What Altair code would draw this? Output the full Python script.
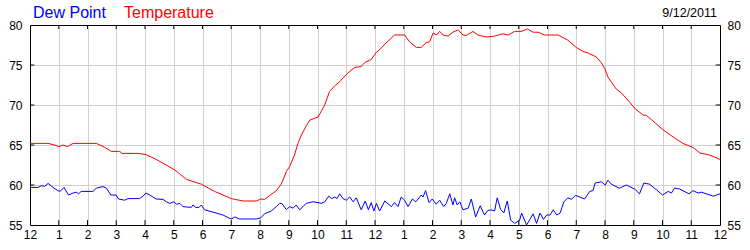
import altair as alt
import pandas as pd

dew_hours = [0.0, 0.28, 0.39, 0.51, 0.63, 0.8, 0.97, 1.05, 1.18, 1.34, 1.5, 1.61, 1.69, 1.78, 2.19, 2.31, 2.54, 2.66,
             2.81, 2.99, 3.08, 3.29, 3.41, 3.81, 3.93, 4.03, 4.16, 4.39, 4.63, 4.74, 4.86, 5.0, 5.1, 5.21, 5.32, 5.61,
             5.67, 5.77, 5.88, 5.96, 6.07, 6.37, 6.71, 7.0, 7.12, 7.29, 7.87, 8.03, 8.16, 8.39, 8.57, 8.68, 8.76, 8.92,
             9.03, 9.15, 9.26, 9.38, 9.61, 9.84, 10.02, 10.13, 10.25, 10.39, 10.49, 10.6, 10.68, 10.77, 10.89, 11.0,
             11.12, 11.24, 11.35, 11.52, 11.66, 11.77, 11.87, 11.96, 12.05, 12.16, 12.34, 12.57, 12.68, 12.8, 12.91,
             13.03, 13.15, 13.3, 13.42, 13.5, 13.61, 13.67, 13.76, 13.88, 13.99, 14.13, 14.25, 14.39, 14.48, 14.6,
             14.71, 14.77, 14.86, 14.95, 15.06, 15.24, 15.35, 15.5, 15.66, 15.81, 15.92, 16.03, 16.16, 16.25, 16.37,
             16.48, 16.6, 16.72, 16.86, 17.03, 17.1, 17.27, 17.39, 17.5, 17.62, 17.74, 17.86, 17.97, 18.09, 18.2,
             18.32, 18.44, 18.57, 18.71, 18.83, 18.97, 19.12, 19.29, 19.47, 19.58, 19.66, 19.87, 20.01, 20.1, 20.22,
             20.5, 20.62, 20.74, 21.03, 21.2, 21.35, 21.55, 21.79, 22.0, 22.2, 22.31, 22.42, 22.6, 22.92, 23.06,
             23.24, 23.36, 23.77, 24.0]
dew_values = [59.7, 59.7, 59.9, 59.85, 60.2, 59.7, 59.3, 59.2, 59.7, 58.75, 59.0, 59.1, 58.9, 59.2, 59.2, 59.6, 59.8,
              59.6, 58.75, 58.75, 58.25, 58.1, 58.3, 58.3, 58.6, 59.0, 58.75, 58.25, 58.2, 57.9, 57.7, 57.9, 57.6,
              57.7, 57.3, 57.2, 57.5, 57.2, 57.2, 57.5, 56.9, 56.6, 56.25, 55.75, 56.0, 55.75, 55.75, 55.9, 56.4,
              56.75, 57.3, 57.7, 57.7, 56.9, 57.3, 57.1, 57.5, 56.9, 57.7, 57.9, 57.8, 57.7, 57.9, 58.6, 58.3, 58.5,
              58.3, 58.9, 58.3, 58.1, 58.5, 57.9, 58.4, 56.9, 58.0, 56.9, 57.8, 56.75, 57.7, 56.75, 58.0, 57.3, 57.8,
              57.3, 58.5, 58.1, 57.3, 58.25, 57.9, 58.25, 58.75, 58.5, 59.3, 57.8, 58.25, 57.6, 58.1, 57.3, 57.7,
              58.9, 57.5, 58.4, 57.5, 57.9, 56.9, 57.1, 58.25, 56.0, 57.4, 56.25, 56.8, 56.9, 56.75, 58.4, 56.95,
              56.5, 58.0, 55.6, 55.2, 55.6, 56.5, 55.0, 55.7, 56.4, 55.2, 56.5, 55.7, 56.25, 56.25, 56.9, 56.25,
              56.5, 57.9, 58.4, 58.2, 58.7, 58.5, 58.25, 59.2, 59.3, 60.25, 60.4, 60.0, 60.6, 60.1, 59.6, 59.8, 60.0,
              59.5, 58.9, 60.25, 60.1, 59.4, 58.75, 59.2, 59.0, 59.6, 59.5, 58.9, 59.3, 59.0, 59.1, 58.6, 58.9]

temp_hours = [0.0, 0.63, 0.85, 1.0, 1.15, 1.3, 1.5, 2.31, 2.6, 2.83, 3.12, 3.2, 3.76, 4.03, 4.39, 5.03, 5.44, 5.96,
              6.42, 7.0, 7.41, 7.87, 8.03, 8.16, 8.34, 8.57, 8.74, 8.92, 9.03, 9.2, 9.32, 9.44, 9.61, 9.73, 10.02,
              10.13, 10.25, 10.42, 10.6, 10.77, 10.89, 11.06, 11.29, 11.52, 11.64, 11.87, 12.05, 12.16, 12.34, 12.68,
              13.03, 13.2, 13.44, 13.61, 13.78, 13.9, 14.02, 14.13, 14.25, 14.37, 14.54, 14.71, 14.89, 15.06, 15.18,
              15.41, 15.58, 15.87, 16.16, 16.45, 16.63, 16.86, 17.09, 17.3, 17.5, 17.67, 17.9, 18.37, 18.71, 19.0,
              19.23, 19.41, 19.7, 19.87, 20.0, 20.1, 20.39, 20.57, 20.8, 21.03, 21.32, 21.44, 21.67, 22.02, 22.37,
              22.71, 23.06, 23.3, 23.64, 24.0]
temp_values = [65.2, 65.2, 65.0, 64.8, 65.0, 64.8, 65.2, 65.2, 64.7, 64.2, 64.2, 63.95, 63.95, 63.8, 63.2, 61.9,
               60.7, 60.1, 59.2, 58.3, 58.0, 58.0, 58.25, 58.2, 58.7, 59.3, 60.1, 61.7, 62.3, 63.75, 65.2, 66.25,
               67.4, 68.1, 68.5, 69.2, 70.0, 71.7, 72.4, 72.9, 73.4, 74.0, 74.7, 74.8, 75.3, 75.7, 76.6, 76.9, 77.6,
               78.75, 78.75, 77.9, 77.2, 77.2, 77.8, 77.9, 79.0, 78.75, 79.2, 78.75, 78.6, 79.1, 79.4, 78.75, 78.7,
               79.2, 78.75, 78.5, 78.6, 78.9, 78.75, 79.2, 79.2, 79.5, 79.1, 79.1, 78.75, 78.75, 78.1, 77.2, 76.7,
               76.5, 76.0, 75.3, 74.5, 73.5, 72.0, 71.5, 70.6, 69.6, 68.75, 68.7, 68.0, 66.9, 66.0, 65.2, 64.7, 64.0,
               63.75, 63.2]

series_names = ["Dew Point", "Temperature"]
series_colors = ["#0000ff", "#ff0000"]
date_label = ["9/12/2011"]
hour_ticks = list(range(25))
y_ticks = [55, 60, 65, 70, 75, 80]

FONT = "Liberation Sans"

df = pd.concat([
    pd.DataFrame({"hour": dew_hours, "value": dew_values, "series": series_names[0]}),
    pd.DataFrame({"hour": temp_hours, "value": temp_values, "series": series_names[1]}),
])

x_scale = alt.Scale(domain=[0, 24], nice=False, zero=False)
y_scale = alt.Scale(domain=[55, 80], nice=False, zero=False)

x_axis = alt.Axis(values=hour_ticks, title=None, grid=True, gridColor="#d0d0d0", gridWidth=1,
                  ticks=False, tickSize=0, domain=True, domainColor="#000000", domainWidth=1,
                  labelFont=FONT, labelFontSize=12, labelFlush=False, labelOverlap=False,
                  labelColor="#000000", labelPadding=4, orient="bottom",
                  labelExpr="datum.value % 12 == 0 ? '12' : '' + (datum.value % 12)")
x_axis_top = alt.Axis(values=hour_ticks, title=None, grid=False, labels=False,
                      ticks=False, tickSize=0, domain=True, domainColor="#000000", domainWidth=1,
                      orient="top")
y_axis_left = alt.Axis(values=y_ticks, title=None, grid=True, gridColor="#d0d0d0", gridWidth=1,
                       ticks=False, tickSize=0, domain=True, domainColor="#000000", domainWidth=1,
                       labelFont=FONT, labelFontSize=12, labelFlush=False, labelOverlap=False,
                       labelColor="#000000", labelPadding=8, orient="left")
y_axis_right = alt.Axis(values=y_ticks, title=None, grid=False,
                        ticks=False, tickSize=0, domain=True, domainColor="#000000", domainWidth=1,
                        labelFont=FONT, labelFontSize=12, labelFlush=False, labelOverlap=False,
                        labelColor="#000000", labelPadding=7, orient="right")

lines = alt.Chart(df).mark_line(strokeWidth=1).encode(
    x=alt.X("hour:Q", scale=x_scale, axis=x_axis),
    y=alt.Y("value:Q", scale=y_scale, axis=y_axis_left),
    color=alt.Color("series:N", scale=alt.Scale(domain=series_names, range=series_colors), legend=None),
)

hour_df = pd.DataFrame({"hour": hour_ticks[1:-1]})
ytick_df = pd.DataFrame({"value": y_ticks[1:-1]})

top_ticks = alt.Chart(hour_df).mark_rule(color="black", strokeWidth=1).encode(
    x=alt.X("hour:Q", scale=x_scale, axis=x_axis),
    y=alt.datum(80, scale=y_scale, axis=y_axis_left), y2=alt.datum(79.5))
bottom_ticks = alt.Chart(hour_df).mark_rule(color="black", strokeWidth=1).encode(
    x=alt.X("hour:Q", scale=x_scale, axis=x_axis),
    y=alt.datum(55, scale=y_scale, axis=y_axis_left), y2=alt.datum(55.6))
left_ticks = alt.Chart(ytick_df).mark_rule(color="black", strokeWidth=1).encode(
    y=alt.Y("value:Q", scale=y_scale, axis=y_axis_left),
    x=alt.datum(0, scale=x_scale, axis=x_axis), x2=alt.datum(0.15))

right_ticks = alt.Chart(ytick_df).mark_rule(color="black", strokeWidth=1).encode(
    y=alt.Y("value:Q", scale=y_scale, axis=y_axis_right),
    x=alt.datum(24, scale=x_scale, axis=x_axis_top), x2=alt.datum(23.85))

legend_dew = alt.Chart(pd.DataFrame({"t": [series_names[0]]})).mark_text(
    align="left", baseline="alphabetic", font=FONT, fontSize=16, color=series_colors[0]
).encode(text="t:N", x=alt.value(3), y=alt.value(-7))
legend_temp = alt.Chart(pd.DataFrame({"t": [series_names[1]]})).mark_text(
    align="left", baseline="alphabetic", font=FONT, fontSize=16, color=series_colors[1]
).encode(text="t:N", x=alt.value(94), y=alt.value(-7))
date_text = alt.Chart(pd.DataFrame({"t": date_label})).mark_text(
    align="right", baseline="alphabetic", font=FONT, fontSize=12.5, color="#000000"
).encode(text="t:N", x=alt.value(687), y=alt.value(-8))

left_layer = alt.layer(lines, top_ticks, bottom_ticks, left_ticks)
chart = alt.layer(
    left_layer, right_ticks, legend_dew, legend_temp, date_text
).resolve_scale(x="independent", y="independent").properties(
    width=690, height=200,
    autosize=alt.AutoSizeParams(type="none"),
    padding={"left": 30, "top": 25, "right": 30, "bottom": 25},
).configure_view(stroke="black", strokeWidth=1).configure(background="white")

chart.save("out.html", embed_options={"renderer": "svg", "actions": False})
